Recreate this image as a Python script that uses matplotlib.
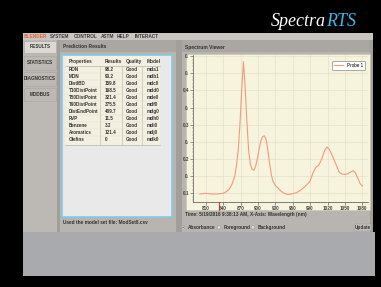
import matplotlib
matplotlib.use('Agg')
from matplotlib import pyplot as plt
from matplotlib.patches import Rectangle, Circle
from matplotlib.ticker import MultipleLocator, FixedLocator

################################################################################
### Data
################################################################################
wavelength = [800, 805, 810, 815, 820, 825, 830, 835, 840, 845, 850, 855, 860,
              863, 866, 869, 872, 875, 878, 881, 884, 887, 890, 893, 896, 899,
              902, 905, 908, 911, 914, 917, 920, 923, 926, 930, 935, 940, 945,
              950, 955, 960, 965, 970, 975, 980, 985, 990, 995, 1000, 1005,
              1010, 1015, 1019, 1023, 1027, 1031, 1035, 1040, 1045, 1050, 1055,
              1060, 1064, 1068, 1072, 1076, 1080]
absorbance = [0.098, 0.099, 0.100, 0.099, 0.098, 0.098, 0.098, 0.099, 0.100,
              0.104, 0.111, 0.125, 0.150, 0.180, 0.225, 0.300, 0.400, 0.484,
              0.410, 0.310, 0.225, 0.185, 0.170, 0.167, 0.178, 0.200, 0.228,
              0.252, 0.265, 0.268, 0.258, 0.228, 0.190, 0.155, 0.135, 0.123,
              0.115, 0.106, 0.100, 0.097, 0.097, 0.099, 0.101, 0.105, 0.111,
              0.118, 0.126, 0.136, 0.160, 0.176, 0.182, 0.200, 0.225, 0.235,
              0.228, 0.215, 0.198, 0.183, 0.162, 0.156, 0.155, 0.157, 0.162,
              0.166, 0.160, 0.145, 0.129, 0.121]

properties = ['RON', 'MON', 'DistIBD', 'T10DistPoint', 'T50DistPoint',
              'T90DistPoint', 'DistEndPoint', 'RVP', 'Benzene', 'Aromatics',
              'Olefins']
results = ['98.2', '93.2', '159.8', '168.5', '321.4', '375.5', '409.7', '11.5',
           '3.2', '121.4', '0']
quality = ['Good'] * 11
models = ['mda1', 'mdb1', 'mdc0', 'mdd0', 'mde0', 'mdf0', 'mdg0', 'mdh0',
          'mdi0', 'mdj0', 'mdk0']
table_header = ['Properties', 'Results', 'Quality', 'Model']

menu_items = ['BLENDER', 'SYSTEM', 'CONTROL', 'ASTM', 'HELP', 'INTERACT']
side_buttons = ['RESULTS', 'STATISTICS', 'DIAGNOSTICS', 'MODBUS']
radio_labels = ['Absorbance', 'Foreground', 'Background']

x_ticks = [810, 840, 870, 900, 930, 960, 990, 1020, 1050, 1080]
y_ticks = [0.1, 0.15, 0.2, 0.25, 0.3, 0.35, 0.4, 0.45, 0.5]
y_tick_labels = ['0.1', '0.', '0.2', '0.', '0.3', '0.', '0.4', '0.', '0.']

################################################################################
### Figure and a pixel-space axes for the UI chrome
################################################################################
W, H = 381, 287
plt.rcParams['font.family'] = ['Liberation Sans', 'DejaVu Sans']
fig = plt.figure(figsize=(W / 100, H / 100), dpi=100, facecolor='black')
ui = fig.add_axes([0, 0, 1, 1])
ui.set_xlim(0, W)
ui.set_ylim(H, 0)
ui.axis('off')
ui.set_facecolor('black')

def box(x0, y0, x1, y1, fc, ec='none', lw=0.0, z=1):
    ui.add_patch(Rectangle((x0, y0), x1 - x0, y1 - y0, facecolor=fc,
                           edgecolor=ec, linewidth=lw, zorder=z))

def txt(x, y, s, size=3.6, color='#333333', weight='bold', z=5, **kw):
    ui.text(x, y, s, fontsize=size, color=color, fontweight=weight,
            va='center', zorder=z, **kw)

ui.add_patch(Rectangle((0, 0), W, H, facecolor='black', zorder=0))

# title
ui.text(326, 26, 'Spectra', fontsize=13, color='white', style='italic',
        family='Liberation Serif', ha='right', va='baseline')
ui.text(326, 26, 'RTS', fontsize=13, color='#3fb6ea', style='italic',
        family='Liberation Serif', ha='left', va='baseline')

# main panels
box(23, 33, 373, 232, '#b8b4af')
box(23, 232, 375, 276, '#a9aaae')
box(23, 33, 373, 39.5, '#c9c6c2')
menu_x = [23.5, 50, 74, 101, 117, 135]
for i, (mx, m) in enumerate(zip(menu_x, menu_items)):
    txt(mx, 36.3, m, size=3.4, color='#e8643c' if i == 0 else '#3a3a3a')

# sidebar
box(23, 39.5, 57, 232, '#bcb8b3')
box(57, 39.5, 60, 232, '#a29e99')
btn_y = [(41, 53), (56, 70), (72, 86), (88, 101)]
for (y0, y1), b in zip(btn_y, side_buttons):
    box(24, y0, 56, y1, '#dcd9d5' if b == 'RESULTS' else '#bcb8b3',
        ec='#a8a49f', lw=0.4, z=2)
    txt(40, (y0 + y1) / 2, b, size=3.3, ha='center')

# panel headers and dividers
box(60, 40, 176, 52, '#aaa6a1')
box(176, 39.5, 182, 232, '#a29e99')
box(182, 40, 373, 52, '#aaa6a1')
box(370, 39.5, 373, 232, '#a29e99')
txt(63, 47, 'Prediction Results', size=3.5)
txt(185, 47, 'Spectrum Viewer', size=3.5)

# prediction results box and table
box(62, 55, 172, 217, '#e9e9e9', ec='#80cbe8', lw=1.2, z=2)
box(65, 56, 160, 145, '#f3f0e1', z=3)
col_x = [69, 105, 126, 146.5]
col_lines = [100, 121.7, 141.7]
for cx in col_lines:
    ui.plot([cx, cx], [66, 145], color='#b9b5a4', lw=0.4, zorder=4)
ui.plot([65, 160], [66, 66], color='#b9b5a4', lw=0.5, zorder=4)
ui.plot([65, 160], [145, 145], color='#b9b5a4', lw=0.5, zorder=4)
for cx, h in zip(col_x, table_header):
    txt(cx, 61.5, h, size=3.4)
for i in range(len(properties)):
    ry = 69.7 + i * 6.96
    if i > 0:
        ui.plot([65, 160], [ry - 3.48, ry - 3.48], color='#ddd9c8', lw=0.3,
                zorder=4)
    for cx, val in zip(col_x, [properties[i], results[i], quality[i], models[i]]):
        txt(cx, ry, val, size=3.3)
txt(63, 222, 'Used the model set file: ModSet8.csv', size=3.4)

# spectrum viewer backdrop
box(186, 54, 370, 210, '#f6f4dc', ec='#c9c6b0', lw=0.5, z=2)
ui.plot([218.5, 218.5], [202, 210], color='#e8463a', lw=0.9, zorder=6)
txt(185, 214.5, 'Time: 5/19/2016 9:38:13 AM, X-Axis: Wavelength (nm)',
    size=3.4)
radio_x = [183, 219, 253]
for rx, lab in zip(radio_x, radio_labels):
    ui.add_patch(Circle((rx, 227.3), 1.8, facecolor='#dedbd7',
                        edgecolor='#8f8b86', lw=0.3, zorder=3))
    txt(rx + 5, 227.3, lab, size=3.4)
ui.add_patch(Circle((183, 227.3), 0.7, facecolor='#555555', zorder=4))
box(354, 224, 371, 231, '#c2beb9', ec='#9a9691', lw=0.3, z=3)
txt(362.5, 227.5, 'Update', size=3.4, ha='center')

################################################################################
### Spectrum chart
################################################################################
L, R, T, B = 193, 368, 55, 202
ax = fig.add_axes([L / W, 1 - B / H, (R - L) / W, (B - T) / H])
ax.patch.set_alpha(0)
ax.plot(wavelength, absorbance, color='#f49a7c', lw=0.8, label='Probe 1')
ax.set_xlim(788.1, 1089.8)
ax.set_ylim(0.0746, 0.5035)
ax.xaxis.set_major_locator(FixedLocator(x_ticks))
ax.xaxis.set_minor_locator(MultipleLocator(5))
ax.yaxis.set_major_locator(FixedLocator(y_ticks))
ax.yaxis.set_minor_locator(MultipleLocator(0.01))
ax.set_yticklabels(y_tick_labels)
ax.tick_params(axis='both', which='major', labelsize=3.3, length=2.0,
               width=0.4, pad=0.8, colors='#444444')
ax.tick_params(axis='both', which='minor', length=1.0, width=0.3,
               colors='#666666')
for lab in ax.get_xticklabels() + ax.get_yticklabels():
    lab.set_fontweight('bold')
ax.grid(True, which='major', color='#e4e2cc', lw=0.5)
for s in ['top', 'right']:
    ax.spines[s].set_visible(False)
for s in ['left', 'bottom']:
    ax.spines[s].set_color('#555555')
    ax.spines[s].set_linewidth(0.5)
leg = ax.legend(loc='upper right', bbox_to_anchor=(0.995, 0.975), fontsize=3.3,
                handlelength=2.0, borderpad=0.4, frameon=True, fancybox=True,
                edgecolor='#888888', framealpha=1)
leg.get_frame().set_linewidth(0.5)

fig.savefig('out.png', dpi=100, facecolor='black')
